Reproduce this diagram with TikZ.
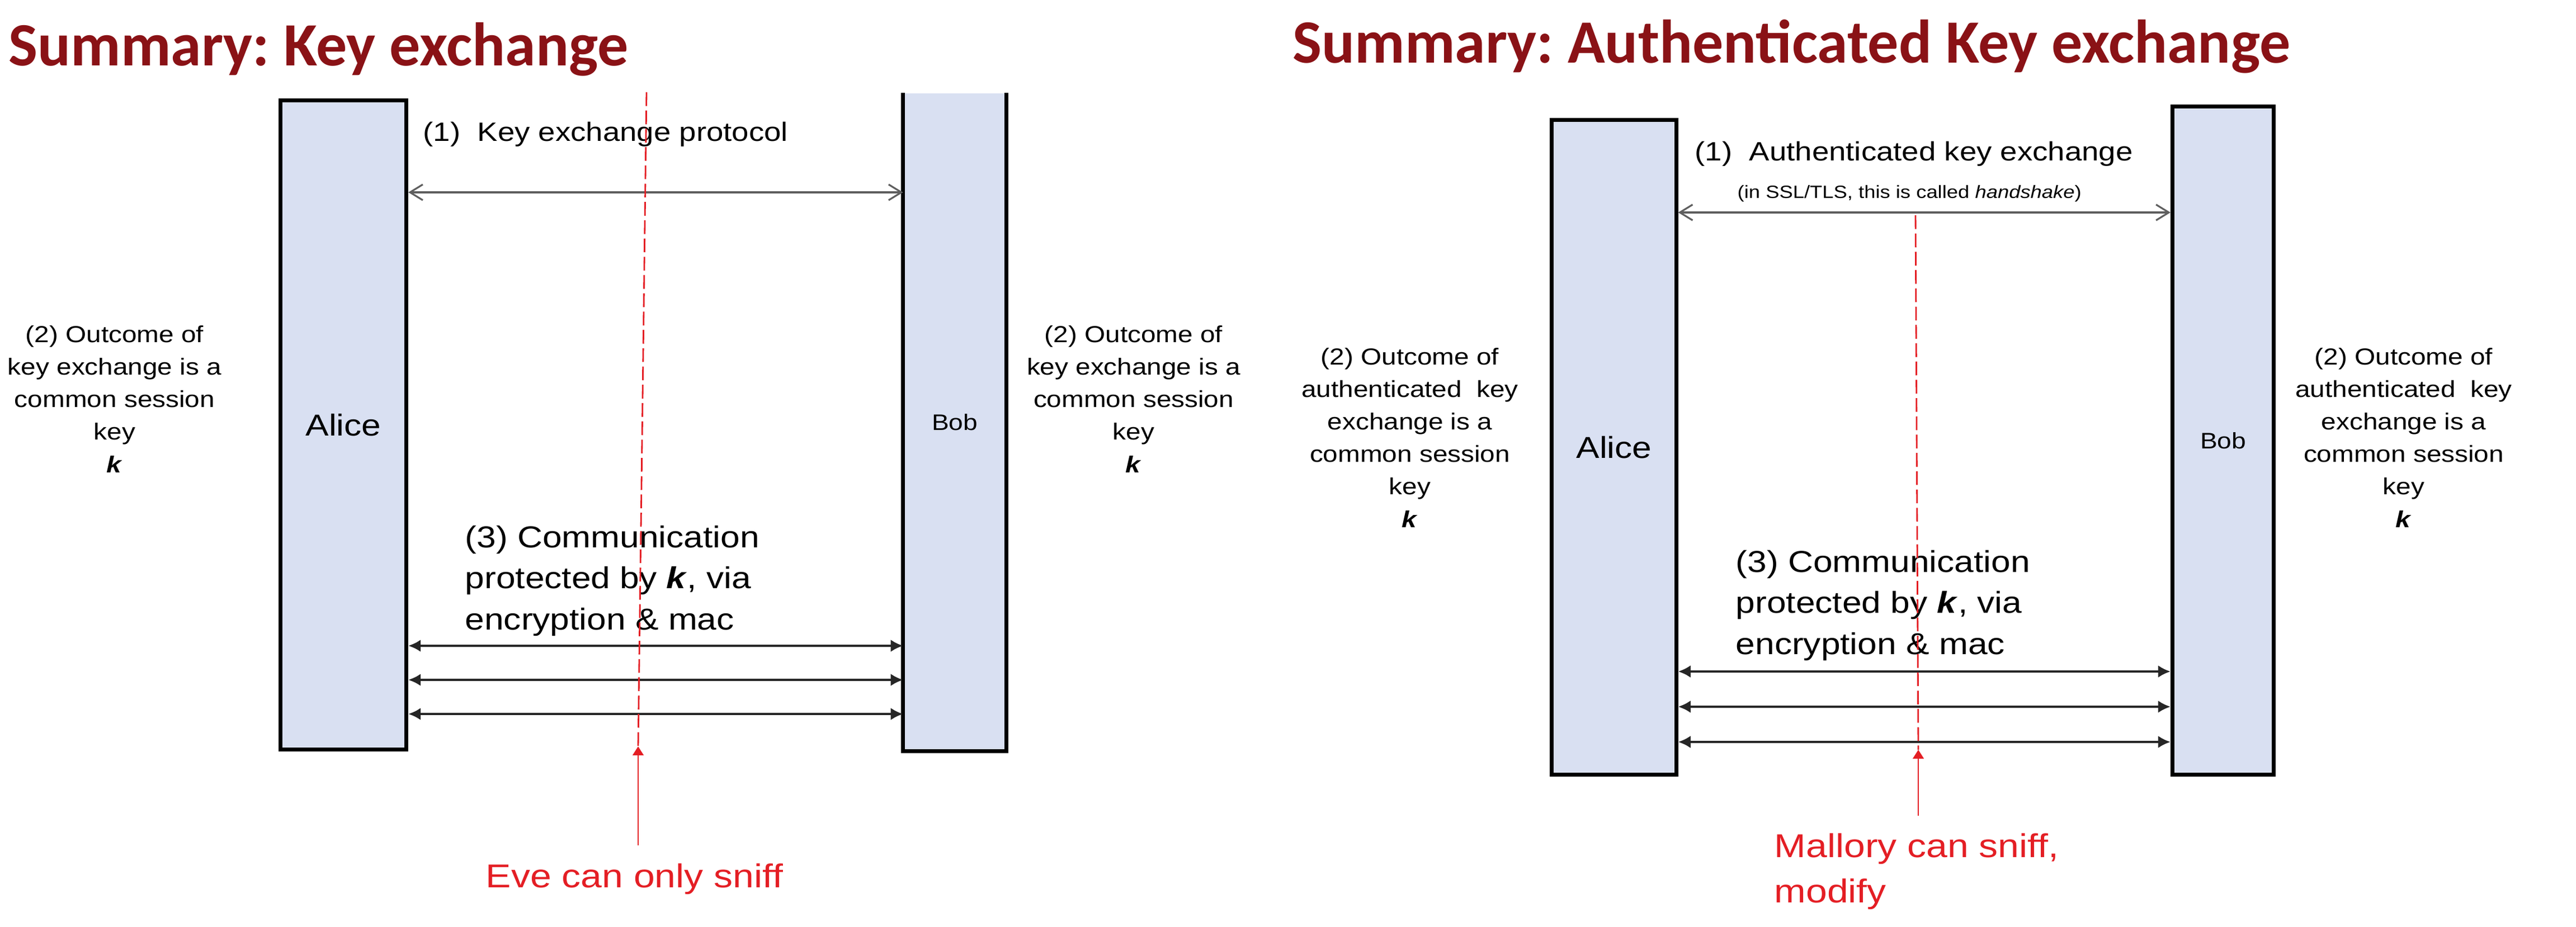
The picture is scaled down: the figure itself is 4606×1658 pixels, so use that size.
\documentclass[tikz,border=0pt]{standalone}
\usepackage{fontspec}
\setmainfont{Liberation Sans}[FakeStretch=1.15]
\newfontfamily\titlefont{Carlito}
\usetikzlibrary{arrows.meta}
\frenchspacing

\definecolor{partyblue}{RGB}{217,224,242}
\definecolor{titlered}{RGB}{138,18,22}
\definecolor{evered}{RGB}{228,30,36}
\definecolor{protogray}{RGB}{95,95,95}

\begin{document}
\begin{tikzpicture}[x=0.01cm,y=-0.01cm,
    party/.style={fill=partyblue,inner sep=0pt},
    border/.style={draw=black,line width=2pt},
    protocol/.style={draw=protogray,line width=0.9pt,{Straight Barb[length=6.5pt,width=8pt]}-{Straight Barb[length=6.5pt,width=8pt]}},
    message/.style={draw=black!85,line width=1.1pt,{Latex[length=6.3pt,width=6.3pt]}-{Latex[length=6.3pt,width=6.3pt]}},
    wire/.style={draw=evered,line width=0.8pt,dash pattern=on 7pt off 2.3pt},
    listen/.style={draw=evered,line width=0.8pt,shorten <=9pt,-{Triangle[length=4.5pt,width=5.5pt]}},
    heading/.style={anchor=base west,inner sep=0pt,text=titlered,font=\titlefont\bfseries\fontsize{31.3}{36}\selectfont},
    outcome/.style={anchor=base,align=center,inner sep=0pt,font=\fontsize{11.8}{16.5}\selectfont},
    steptext/.style={anchor=base west,inner sep=0pt,font=\fontsize{13.5}{16}\selectfont},
    commtext/.style={anchor=base west,align=left,inner sep=0pt,font=\fontsize{15.4}{20.8}\selectfont},
    attacker/.style={anchor=base west,align=left,inner sep=0pt,text=evered,font=\fontsize{16.8}{22.8}\selectfont},
  ]
  \useasboundingbox (0,0) rectangle (4606,1658);

  %left: plain key exchange
  \node[heading] (titleL) at (15,118) {Summary: Key exchange};

  \node[party,border,minimum width=2.25cm,minimum height=11.6cm,font=\fontsize{15.4}{18}\selectfont] (aliceL) at (614,760) {Alice};
  \node[party,minimum width=1.83cm,minimum height=11.75cm,font=\fontsize{11.4}{14}\selectfont] (bobL) at (1707,755) {Bob};
  \draw[border] (bobL.north west) -- (bobL.south west) -- (bobL.south east) -- (bobL.north east);

  \node[steptext] (kexL) at (756,253) {(1)\ \ Key exchange protocol};
  \draw[protocol] (aliceL.east |- 0,344) -- (bobL.west |- 0,344);

  % multi-line nodes sit on their last line
  \node[outcome] (outAliceL) at (205,845) {(2) Outcome of\\key exchange is a\\common session\\key\\\textbf{\textit{k}}};
  \node[outcome] (outBobL) at (2027,845) {(2) Outcome of\\key exchange is a\\common session\\key\\\textbf{\textit{k}}};

  \node[commtext] (commL) at (831,1126) {(3) Communication\\protected by \textbf{\textit{k}}, via\\encryption \& mac};
  \foreach \y in {1155,1216,1277}
    \draw[message] (aliceL.east |- 0,\y) -- (bobL.west |- 0,\y);

  %Eve on the wire:
  \coordinate (wireTopL) at (1156,165);
  \coordinate (tapL) at (1141,1335);
  \draw[wire] (wireTopL) -- (tapL);
  \node[attacker] (eve) at (868,1587) {Eve can only sniff};
  \draw[listen] (eve.north -| tapL) -- (tapL);

  %right: authenticated key exchange
  \node[heading] (titleR) at (2311,113) {Summary: Authenticated Key exchange};

  \node[party,border,minimum width=2.22cm,minimum height=11.7cm,font=\fontsize{15.4}{18}\selectfont] (aliceR) at (2886,800) {Alice};
  \node[party,border,minimum width=1.81cm,minimum height=11.95cm,font=\fontsize{11.4}{14}\selectfont] (bobR) at (3975,788) {Bob};

  \node[steptext] (kexR) at (3030,288) {(1)\ \ Authenticated key exchange};
  \node[steptext,font=\fontsize{9}{11}\selectfont] (tlsR) at (3106,355) {(in SSL/TLS, this is called \textit{handshake})};
  \draw[protocol] (aliceR.east |- 0,380) -- (bobR.west |- 0,380);

  \node[outcome] (outAliceR) at (2521,943) {(2) Outcome of\\authenticated\ \ key\\exchange is a\\common session\\key\\\textbf{\textit{k}}};
  \node[outcome] (outBobR) at (4298,943) {(2) Outcome of\\authenticated\ \ key\\exchange is a\\common session\\key\\\textbf{\textit{k}}};

  \node[commtext] (commR) at (3103,1170) {(3) Communication\\protected by \textbf{\textit{k}}, via\\encryption \& mac};
  \foreach \y in {1201,1264,1327}
    \draw[message] (aliceR.east |- 0,\y) -- (bobR.west |- 0,\y);

  %Mallory on the wire:
  \coordinate (wireTopR) at (3425,385);
  \coordinate (tapR) at (3430,1341);
  \draw[wire] (wireTopR) -- (tapR);
  \node[attacker] (mallory) at (3172,1614) {Mallory can sniff,\\modify};
  \draw[listen] (mallory.north -| tapR) -- (tapR);

\end{tikzpicture}
\end{document}
